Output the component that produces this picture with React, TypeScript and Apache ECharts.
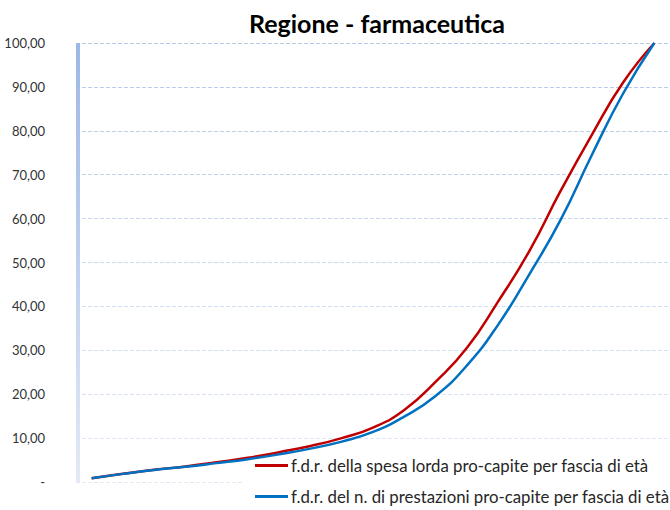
import React, { useEffect, useRef } from "react";
import * as echarts from "echarts";

const ageBands = ["0-4", "5-9", "10-14", "15-19", "20-24", "25-29", "30-34", "35-39", "40-44", "45-49", "50-54", "55-59", "60-64", "65-69", "70-74", "75-79", "80-84", "85-89", "90+"];
const spesaLorda = [0.85, 1.9, 2.8, 3.55, 4.5, 5.5, 6.8, 8.2, 10.0, 12.4, 16.4, 22.8, 30.5, 41.1, 52.6, 66.3, 79.1, 91.0, 100];
const prestazioni = [0.85, 1.85, 2.75, 3.45, 4.3, 5.2, 6.3, 7.6, 9.2, 11.4, 14.9, 19.6, 26.5, 35.8, 47.3, 59.7, 74.5, 88.5, 100];
const seriesNames = [
  "f.d.r. della spesa lorda pro-capite per fascia di età",
  "f.d.r. del n. di prestazioni pro-capite per fascia di età",
];
const titleText = "Regione - farmaceutica";

export default function App() {
  const ref = useRef<HTMLDivElement>(null);
  useEffect(() => {
    if (!ref.current) return;
    const chart = echarts.init(ref.current, undefined, { renderer: "svg" });
    const font = "Lato, 'Open Sans', sans-serif";
    chart.setOption({
      animation: false,
      backgroundColor: "#ffffff",
      title: {
        text: titleText,
        left: 372,
        top: 5,
        textAlign: "center",
        textStyle: { fontFamily: font, fontSize: 25, fontWeight: "bold", color: "#000" },
      },
      grid: { left: 76, top: 43, bottom: 28, right: -6, containLabel: false },
      xAxis: {
        type: "category",
        data: ageBands,
        boundaryGap: true,
        axisLine: { show: false },
        axisTick: { show: false },
        axisLabel: { show: false },
        splitLine: { show: false },
      },
      yAxis: {
        type: "value",
        min: 0,
        max: 100,
        interval: 10,
        axisLine: { show: false },
        axisTick: { show: false },
        axisLabel: {
          margin: 31,
          fontFamily: font,
          fontSize: 13,
          color: "#333333",
          formatter: (v: number) => (v === 0 ? "-" : v.toFixed(2).replace(".", ",")),
        },
        splitLine: {
          show: true,
          lineStyle: {
            type: [4, 2],
            width: 1,
            color: ["#e4eaf6", "#dfe6f5", "#dae3f4", "#d6e0f3", "#d1ddf2", "#ccd9f0", "#c8d6ef", "#c3d2ee", "#bfcfed", "#bacbec", "#b5c8eb"],
          },
        },
      },
      legend: {
        orient: "vertical",
        left: 243,
        top: 449,
        z: 1,
        padding: [8, 20, 2, 12],
        itemGap: 14,
        itemWidth: 33,
        itemHeight: 3,
        icon: "rect",
        backgroundColor: "#ffffff",
        textStyle: { fontFamily: font, fontSize: 16.8, color: "#262626", padding: [0, 0, 0, -2] },
        data: seriesNames,
      },
      graphic: [
        {
          type: "rect",
          shape: { x: 76, y: 43, width: 4, height: 440 },
          style: {
            fill: new echarts.graphic.LinearGradient(0, 0, 0, 1, [
              { offset: 0, color: "#9db7e6" },
              { offset: 1, color: "#e3eaf6" },
            ]),
          },
          z: 1,
        },
      ],
      series: [
        {
          name: seriesNames[0],
          type: "line",
          data: spesaLorda,
          smooth: 0.5,
          showSymbol: false,
          symbol: "none",
          lineStyle: { color: "#c00000", width: 2.5 },
          itemStyle: { color: "#c00000" },
          z: 3,
        },
        {
          name: seriesNames[1],
          type: "line",
          data: prestazioni,
          smooth: 0.5,
          showSymbol: false,
          symbol: "none",
          lineStyle: { color: "#0070c0", width: 2.5 },
          itemStyle: { color: "#0070c0" },
          z: 4,
        },
      ],
    });
    return () => chart.dispose();
  }, []);
  return <div ref={ref} style={{ position: "absolute", left: 0, top: 0, width: 670, height: 510 }} />;
}
